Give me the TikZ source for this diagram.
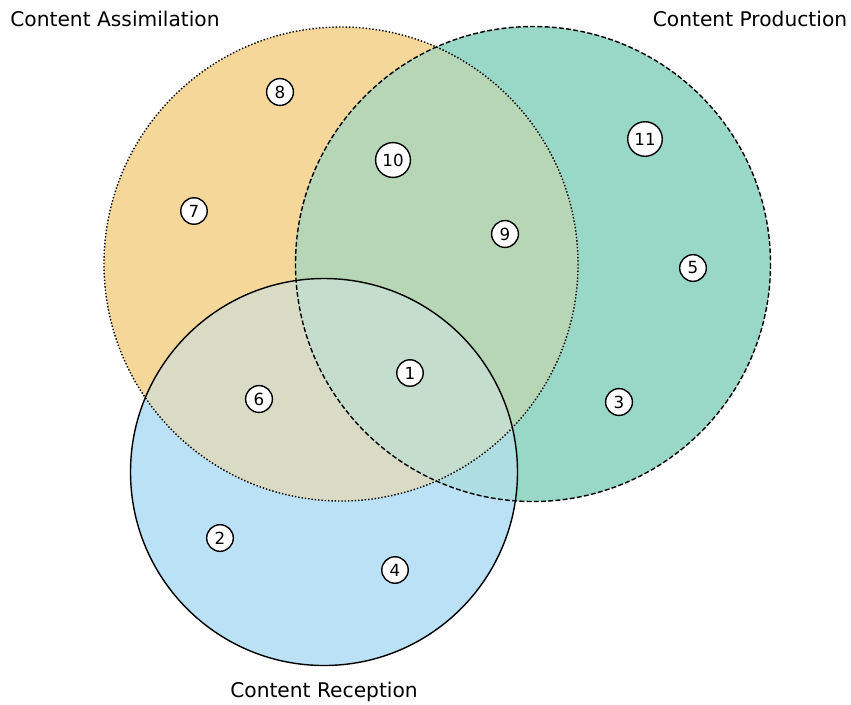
\documentclass[tikz,border=0pt]{standalone}
\usepackage{fontspec}
\setmainfont{DejaVu Sans}
\definecolor{assimC}{RGB}{245,215,153}
\definecolor{prodC}{RGB}{153,216,199}
\definecolor{recepC}{RGB}{187,225,246}
\definecolor{apC}{RGB}{182,214,182}
\definecolor{arC}{RGB}{217,219,196}
\definecolor{prC}{RGB}{174,222,226}
\definecolor{aprC}{RGB}{197,221,205}
\begin{document}
\begin{tikzpicture}[
        x=0.02cm, y=-0.02cm,
        % 集合圓的邊框
        set_edge/.style={
            draw=black,
            line width=0.8pt
        },
        % 編號節點:黑框、白底、圓形
        vertex/.style={
            circle,
            draw=black,
            fill=white,
            line width=0.8pt,
            minimum size=0.52cm,
            inner sep=2.1pt,
            font=\fontsize{9.5}{10}\selectfont
        },
        % 集合名稱
        label_text/.style={
            font=\fontsize{11.5}{12}\selectfont
        }
    ]
    \useasboundingbox (0,0) rectangle (851,704);

    % --- 集合中心 ---
    \coordinate (assim) at (341,264);
    \coordinate (prod)  at (533,264);
    \coordinate (recep) at (324,472);
    \def\ra{237}
    \def\rp{237.5}
    \def\rr{193.5}

    % --- 單一區域 ---
    \fill[assimC] (assim) circle[radius=\ra];
    \fill[prodC]  (prod)  circle[radius=\rp];
    \fill[recepC] (recep) circle[radius=\rr];

    % --- 兩兩交集 ---
    \begin{scope}
        \clip (assim) circle[radius=\ra];
        \fill[apC] (prod) circle[radius=\rp];
        \fill[arC] (recep) circle[radius=\rr];
    \end{scope}
    \begin{scope}
        \clip (prod) circle[radius=\rp];
        \fill[prC] (recep) circle[radius=\rr];
    \end{scope}
    % --- 三者交集 ---
    \begin{scope}
        \clip (assim) circle[radius=\ra];
        \clip (prod) circle[radius=\rp];
        \fill[aprC] (recep) circle[radius=\rr];
    \end{scope}

    % --- 邊框 ---
    \draw[set_edge, dash pattern=on 0.8pt off 1.1pt] (assim) circle[radius=\ra];
    \draw[set_edge, dash pattern=on 2.8pt off 1.3pt] (prod)  circle[radius=\rp];
    \draw[set_edge]                                  (recep) circle[radius=\rr];

    % --- 集合名稱 ---
    \node[label_text] (lassim) at (115,19)  {Content Assimilation};
    \node[label_text] (lprod)  at (750,19)  {Content Production};
    \node[label_text] (lrecep) at (324,692) {Content Reception};

    % --- 編號 ---
    \node[vertex] (n1)  at (410,373) {1};
    \node[vertex] (n2)  at (220,538) {2};
    \node[vertex] (n3)  at (619,402) {3};
    \node[vertex] (n4)  at (395,570) {4};
    \node[vertex] (n5)  at (693,268) {5};
    \node[vertex] (n6)  at (259,399) {6};
    \node[vertex] (n7)  at (194,211) {7};
    \node[vertex] (n8)  at (280,92)  {8};
    \node[vertex] (n9)  at (505,234) {9};
    \node[vertex] (n10) at (393,160) {10};
    \node[vertex] (n11) at (645,139) {11};
\end{tikzpicture}
\end{document}
